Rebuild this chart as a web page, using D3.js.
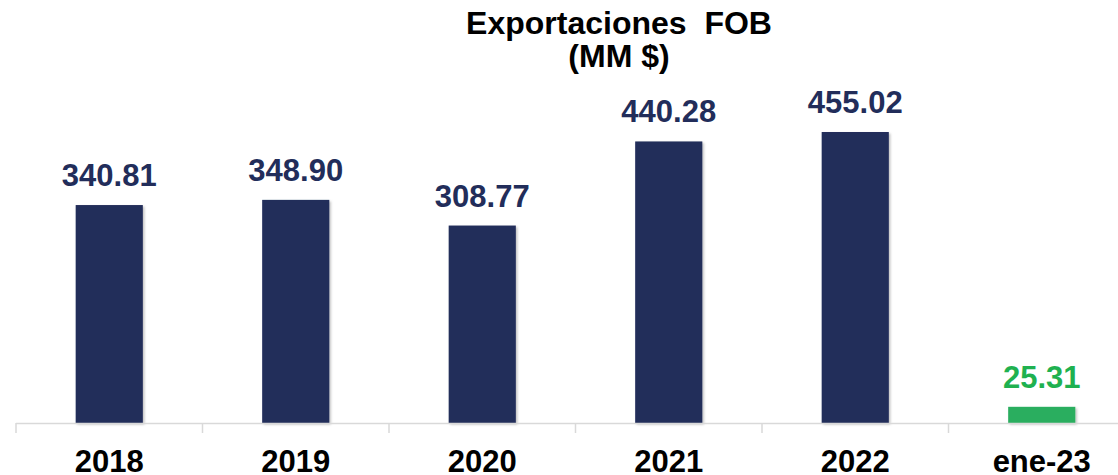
<!DOCTYPE html>
<html>
<head>
<meta charset="utf-8">
<script src="https://cdn.jsdelivr.net/npm/d3@7"></script>
<style>
  body { margin: 0; background: #fff; }
  text { font-family: "Liberation Sans", Arial, sans-serif; font-weight: bold; }
</style>
</head>
<body>
<div id="chart"></div>
<script>
var svgWidth = 1118;
var svgHeight = 475;

// data
var categories = ["2018", "2019", "2020", "2021", "2022", "ene-23"];
var values = [340.81, 348.90, 308.77, 440.28, 455.02, 25.31];
var labels = ["340.81", "348.90", "308.77", "440.28", "455.02", "25.31"];
var highlight = [false, false, false, false, false, true];

var svg = d3.select("#chart")
  .append("svg")
  .attr("width", svgWidth)
  .attr("height", svgHeight);

// soft shadow like the office chart
var defs = svg.append("defs");
var filt = defs.append("filter").attr("id", "shadow")
  .attr("x", "-20%").attr("y", "-20%").attr("width", "150%").attr("height", "150%");
filt.append("feDropShadow")
  .attr("dx", 1.5).attr("dy", 1.5).attr("stdDeviation", 1.2)
  .attr("flood-color", "#000").attr("flood-opacity", 0.25);

var baseY = 423;

var xScale = d3.scaleBand()
  .domain(categories)
  .range([16, 1135])
  .paddingInner(0.64)
  .paddingOuter(0.32);

var yScale = d3.scaleLinear()
  .domain([0, 500])
  .range([baseY, baseY - 500 * 0.6395]);

// title
svg.append("text")
  .attr("x", 619)
  .attr("y", 34)
  .attr("text-anchor", "middle")
  .attr("font-size", "32px")
  .attr("fill", "#000")
  .style("white-space", "pre")
  .text("Exportaciones  FOB");

svg.append("text")
  .attr("x", 619)
  .attr("y", 67)
  .attr("text-anchor", "middle")
  .attr("font-size", "32px")
  .attr("fill", "#000")
  .text("(MM $)");

// bars
svg.selectAll("rect.bar")
  .data(values)
  .enter()
  .append("rect")
  .attr("class", "bar")
  .attr("x", (d, i) => xScale(categories[i]))
  .attr("y", d => yScale(d))
  .attr("width", xScale.bandwidth())
  .attr("height", d => yScale(0) - yScale(d))
  .attr("fill", (d, i) => highlight[i] ? "#2aae5f" : "#222d5a")
  .attr("filter", "url(#shadow)");

// value labels
svg.selectAll("text.val")
  .data(values)
  .enter()
  .append("text")
  .attr("class", "val")
  .attr("x", (d, i) => xScale(categories[i]) + xScale.bandwidth() / 2)
  .attr("y", d => yScale(d) - 19)
  .attr("text-anchor", "middle")
  .attr("font-size", "31px")
  .attr("fill", (d, i) => highlight[i] ? "#1fb150" : "#222d5a")
  .text((d, i) => labels[i]);

// x axis
var step = xScale.step();
var x0 = 16;
svg.append("line")
  .attr("x1", x0).attr("x2", svgWidth)
  .attr("y1", baseY + 0.5).attr("y2", baseY + 0.5)
  .attr("stroke", "#d9d9d9")
  .attr("stroke-width", 1.5);

svg.selectAll("line.tick")
  .data(d3.range(categories.length))
  .enter()
  .append("line")
  .attr("class", "tick")
  .attr("x1", i => x0 + i * step)
  .attr("x2", i => x0 + i * step)
  .attr("y1", baseY)
  .attr("y2", baseY + 10)
  .attr("stroke", "#d9d9d9")
  .attr("stroke-width", 1.5);

svg.selectAll("text.cat")
  .data(categories)
  .enter()
  .append("text")
  .attr("class", "cat")
  .attr("x", d => xScale(d) + xScale.bandwidth() / 2)
  .attr("y", 472)
  .attr("text-anchor", "middle")
  .attr("font-size", "31px")
  .attr("fill", "#000")
  .text(d => d);
</script>
</body>
</html>
